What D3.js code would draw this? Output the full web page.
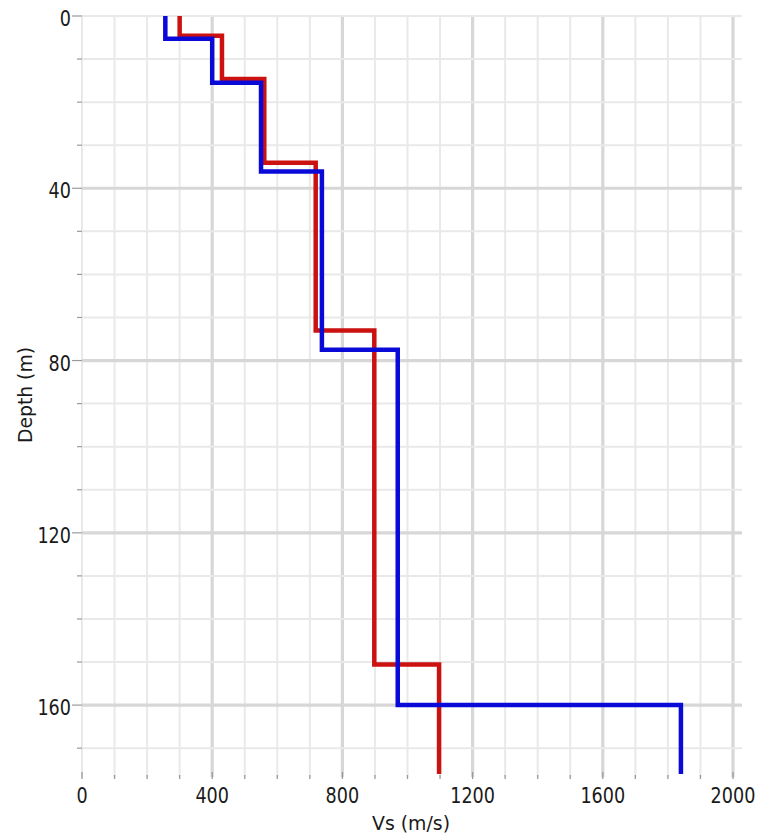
<!DOCTYPE html>
<html>
<head>
<meta charset="utf-8">
<script src="https://cdn.jsdelivr.net/npm/d3@7"></script>
<style>
  html, body { margin: 0; padding: 0; background: #fff; }
  svg { display: block; }
  text { font-family: "DejaVu Sans", sans-serif; fill: #1a1a1a; }
</style>
</head>
<body>
<svg id="chart" width="758" height="839"></svg>
<script>
// ---- data ----
const redDepths = [0, 4.6, 14.6, 34.1, 73.0, 150.6, 176];
const redVs     = [300, 430, 560, 718, 898, 1097];
const blueDepths = [0, 5.3, 15.5, 36.1, 77.5, 160, 176];
const blueVs     = [256, 400, 550, 737, 970, 1840];
const xTicks = [0, 400, 800, 1200, 1600, 2000];
const yTicks = [0, 40, 80, 120, 160];
const xLabel = "Vs (m/s)";
const yLabel = "Depth (m)";

const svg = d3.select("#chart");
const x = d3.scaleLinear().domain([0, 2000]).range([82, 733]);
const y = d3.scaleLinear().domain([0, 176]).range([16, 774]);

const minorX = d3.range(0, 2001, 100);
const minorY = d3.range(0, 171, 10);
const isMajorX = v => v % 400 === 0 && v !== 0;
const isMajorY = v => v % 40 === 0 && v !== 0;

const g = svg.append("g");

// vertical grid lines
g.selectAll("line.vx").data(minorX).join("line")
  .attr("x1", d => x(d)).attr("x2", d => x(d))
  .attr("y1", y(0) - 1).attr("y2", y(176) + 3)
  .attr("stroke", d => isMajorX(d) ? "#d7d7d7" : "#e9e9e9")
  .attr("stroke-width", d => isMajorX(d) ? 3.2 : 2);

// horizontal grid lines
g.selectAll("line.hy").data(minorY).join("line")
  .attr("x1", x(0)).attr("x2", 742)
  .attr("y1", d => y(d)).attr("y2", d => y(d))
  .attr("stroke", d => isMajorY(d) ? "#d7d7d7" : "#e9e9e9")
  .attr("stroke-width", d => isMajorY(d) ? 3.2 : 2);

// left ticks
g.selectAll("line.ty").data(minorY).join("line")
  .attr("x1", d => (isMajorY(d) || d === 0) ? 72 : 77).attr("x2", x(0))
  .attr("y1", d => y(d)).attr("y2", d => y(d))
  .attr("stroke", "#9a9a9a").attr("stroke-width", 1.2);

// bottom ticks
g.selectAll("line.tx").data(minorX).join("line")
  .attr("x1", d => x(d)).attr("x2", d => x(d))
  .attr("y1", d => (isMajorX(d) || d === 0) ? 772 : 775).attr("y2", 779)
  .attr("stroke", "#9a9a9a").attr("stroke-width", 1.3);

// tick labels
const digitW = 11.2;
svg.selectAll("text.xt").data(xTicks).join("text")
  .attr("x", d => x(d)).attr("y", 803)
  .attr("text-anchor", "middle")
  .attr("font-size", 21)
  .attr("textLength", d => String(d).length * digitW)
  .attr("lengthAdjust", "spacingAndGlyphs")
  .text(d => d);

svg.selectAll("text.yt").data(yTicks).join("text")
  .attr("x", 71).attr("y", d => y(d) + 10)
  .attr("text-anchor", "end")
  .attr("font-size", 21)
  .attr("textLength", d => String(d).length * digitW)
  .attr("lengthAdjust", "spacingAndGlyphs")
  .text(d => d);

// axis titles
svg.append("text")
  .attr("x", 411).attr("y", 830)
  .attr("text-anchor", "middle")
  .attr("font-size", 20)
  .attr("textLength", 78).attr("lengthAdjust", "spacingAndGlyphs")
  .text(xLabel);

svg.append("text")
  .attr("transform", "translate(32,395) rotate(-90)")
  .attr("text-anchor", "middle")
  .attr("font-size", 20)
  .attr("textLength", 96).attr("lengthAdjust", "spacingAndGlyphs")
  .text(yLabel);

// step profiles
function profilePoints(depths, vs) {
  const pts = [];
  vs.forEach((v, i) => {
    pts.push([v, depths[i]]);
    pts.push([v, depths[i + 1]]);
  });
  return pts;
}
const line = d3.line().x(d => x(d[0])).y(d => y(d[1]));

svg.append("path")
  .attr("d", line(profilePoints(redDepths, redVs)))
  .attr("fill", "none").attr("stroke", "#cc1111")
  .attr("stroke-width", 4.5).attr("stroke-linejoin", "miter");

svg.append("path")
  .attr("d", line(profilePoints(blueDepths, blueVs)))
  .attr("fill", "none").attr("stroke", "#0a0ad8")
  .attr("stroke-width", 4.5).attr("stroke-linejoin", "miter");
</script>
</body>
</html>
